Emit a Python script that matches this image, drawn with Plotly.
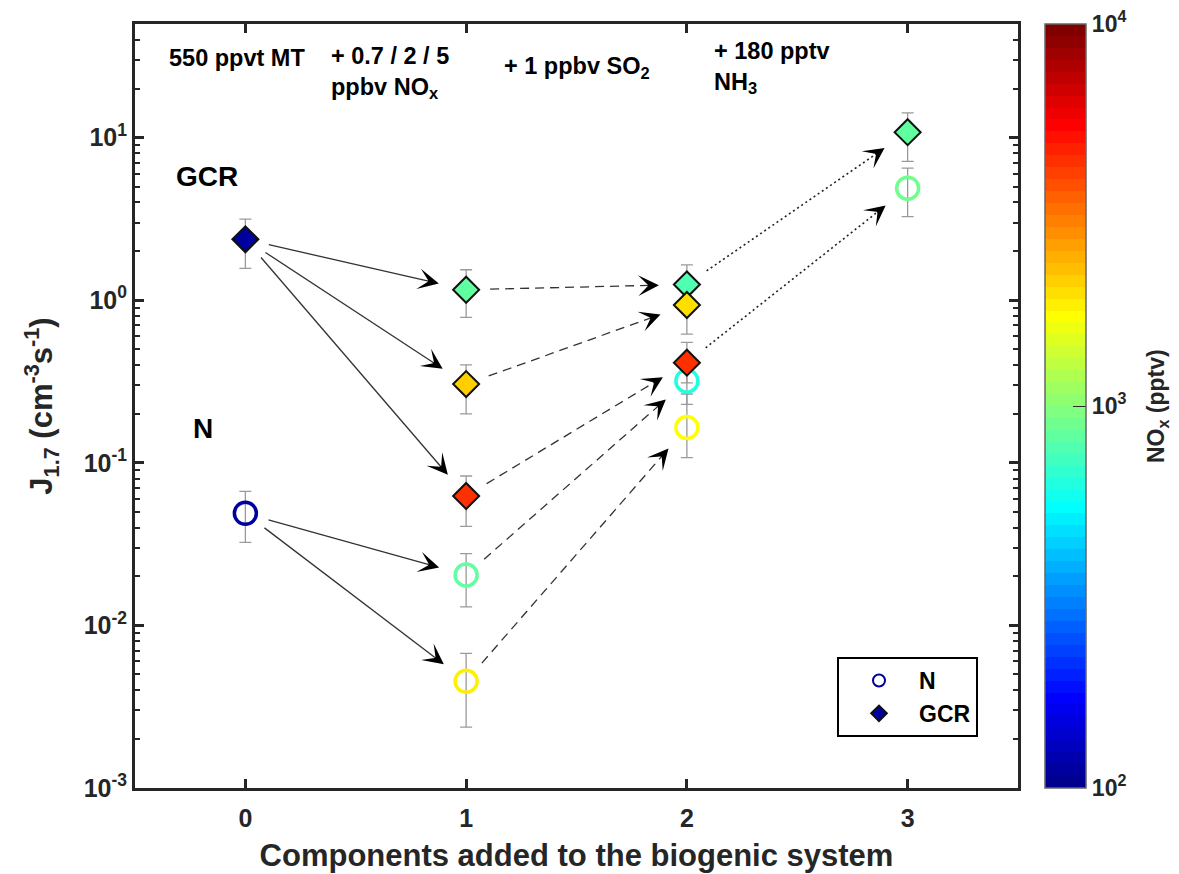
import numpy as np
import plotly.graph_objects as go

# ---------------- data ----------------
gcr_x = [0, 1, 1, 1, 2, 2, 2, 3]
gcr_y = [2.37, 1.16, 0.305, 0.0625, 1.25, 0.935, 0.413, 10.8]
gcr_lo = [1.57, 0.785, 0.20, 0.0406, 0.95, 0.618, 0.31, 7.14]
gcr_hi = [3.15, 1.54, 0.40, 0.083, 1.65, 1.25, 0.55, 14.2]
gcr_nox = [110, 830, 2140, 4470, 780, 1950, 4470, 830]

n_x = [0, 1, 1, 2, 2, 3]
n_y = [0.0489, 0.0204, 0.00454, 0.319, 0.165, 4.89]
n_lo = [0.0324, 0.013, 0.00237, 0.229, 0.1076, 3.27]
n_hi = [0.0668, 0.0276, 0.00673, 0.44, 0.265, 6.49]
n_nox = [110, 830, 1900, 640, 1700, 900]

# arrows: (from series, index, to series, index)
solid_arrows = [("GCR", 0, "GCR", 1), ("GCR", 0, "GCR", 2), ("GCR", 0, "GCR", 3),
                ("N", 0, "N", 1), ("N", 0, "N", 2)]
dashed_arrows = [("GCR", 1, "GCR", 4), ("GCR", 2, "GCR", 5), ("GCR", 3, "GCR", 6),
                 ("N", 1, "N", 3), ("N", 2, "N", 4)]
dotted_arrows = [("GCR", 4, "GCR", 7), ("GCR", 6, "N", 5)]

x_ticks = [0, 1, 2, 3]
y_tickvals = [1e-3, 1e-2, 1e-1, 1e0, 1e1]
y_ticktext = ["10<sup>-3</sup>", "10<sup>-2</sup>", "10<sup>-1</sup>", "10<sup>0</sup>", "10<sup>1</sup>"]
cb_tickvals = [2, 3, 4]
cb_ticktext = ["10<sup>2</sup>", "10<sup>3</sup>", "10<sup>4</sup>"]

# ---------------- layout constants ----------------
W, H = 1179, 874
ML, MR, MT, MB = 135, 161, 24, 86
PW, PH = W - ML - MR, H - MT - MB
XR = [-0.5, 3.5]
YR = [-3, np.log10(50)]
SX = PW / (XR[1] - XR[0])
SY = PH / (YR[1] - YR[0])
AX_COL = "#262626"
FONT = "Liberation Sans, Arial, sans-serif"


def matlab_jet(m=64):
    n = int(np.ceil(m / 4))
    u = np.concatenate([np.arange(1, n + 1) / n, np.ones(n - 1), np.arange(n, 0, -1) / n])
    g = int(np.ceil(n / 2)) - (1 if m % 4 == 1 else 0) + np.arange(1, len(u) + 1)
    r = g + n
    b = g - n
    J = np.zeros((m, 3))
    for idx, val in zip(r, u):
        if 1 <= idx <= m:
            J[idx - 1, 0] = val
    for idx, val in zip(g, u):
        if 1 <= idx <= m:
            J[idx - 1, 1] = val
    for idx, val in zip(b, u):
        if 1 <= idx <= m:
            J[idx - 1, 2] = val
    return J


J = matlab_jet(64)
colorscale = []
for i, c in enumerate(J):
    col = "rgb(%d,%d,%d)" % tuple(np.round(c * 255))
    colorscale.append([i / 64, col])
    colorscale.append([(i + 1) / 64, col])

series = {
    "GCR": (gcr_x, gcr_y),
    "N": (n_x, n_y),
}

fig = go.Figure()


def to_px(x, y):
    return np.array([(x - XR[0]) * SX, (np.log10(y) - YR[0]) * SY])


def from_px(p):
    return p[0] / SX + XR[0], 10 ** (p[1] / SY + YR[0])


S0, S1, HEAD = 24, 28, 10
heads = []


def add_arrow(a, dash, width, color):
    s1, i1, s2, i2 = a
    p0 = to_px(series[s1][0][i1], series[s1][1][i1])
    p1 = to_px(series[s2][0][i2], series[s2][1][i2])
    d = p1 - p0
    u = d / np.hypot(*d)
    a0 = from_px(p0 + u * S0)
    tip = p1 - u * S1
    a1 = from_px(tip - u * 5)
    t = from_px(tip)
    fig.add_trace(go.Scatter(x=[a0[0], a1[0]], y=[a0[1], a1[1]], mode="lines",
                             line=dict(color=color, width=width, dash=dash),
                             showlegend=False, hoverinfo="skip"))
    heads.append(dict(x=t[0], y=np.log10(t[1]), xref="x", yref="y", text="",
                      showarrow=True, arrowhead=3, arrowsize=3.0, arrowwidth=1.15,
                      arrowcolor="#000", ax=-u[0] * HEAD, ay=u[1] * HEAD, standoff=0))


for a in solid_arrows:
    add_arrow(a, "solid", 1.3, "#333333")
for a in dashed_arrows:
    add_arrow(a, "9px,6px", 1.3, "#333333")
for a in dotted_arrows:
    add_arrow(a, "2px,3px", 1.6, "#222222")

err_style = dict(type="data", symmetric=False, color="#9a9a9a", thickness=1.3, width=6)

fig.add_trace(go.Scatter(
    x=n_x, y=n_y, mode="markers", name="N",
    error_y=dict(array=[h - v for h, v in zip(n_hi, n_y)],
                 arrayminus=[v - l for l, v in zip(n_lo, n_y)], **err_style),
    marker=dict(symbol="circle-open", size=22, line=dict(width=3.5),
                color=np.log10(n_nox), colorscale=colorscale, cmin=2, cmax=4),
))

fig.add_trace(go.Scatter(
    x=gcr_x, y=gcr_y, mode="markers", name="GCR",
    error_y=dict(array=[h - v for h, v in zip(gcr_hi, gcr_y)],
                 arrayminus=[v - l for l, v in zip(gcr_lo, gcr_y)], **err_style),
    marker=dict(symbol="diamond", size=20, line=dict(width=2, color="#111"),
                color=np.log10(gcr_nox), colorscale=colorscale, cmin=2, cmax=4,
                showscale=True,
                colorbar=dict(
                    x=(1045 - ML) / PW, xanchor="left", xpad=0, ypad=0,
                    y=0.5, yanchor="middle", len=1, lenmode="fraction",
                    thickness=41, thicknessmode="pixels",
                    outlinecolor="#666", outlinewidth=1.5,
                    tickmode="array", tickvals=cb_tickvals, ticktext=cb_ticktext,
                    ticks="inside", ticklen=13, tickwidth=1.3, tickcolor=AX_COL,
                    tickfont=dict(size=23, family=FONT, color=AX_COL, weight="bold"),
                )),
))

texts = [
    dict(text="550 ppvt MT", x=-0.04, y=1.49, xanchor="center", size=23.5),
    dict(text="+ 0.7 / 2 / 5<br>ppbv NO<sub>x</sub>", x=0.38, y=1.40, xanchor="left", size=23.5),
    dict(text="+ 1 ppbv SO<sub>2</sub>", x=1.163, y=1.43, xanchor="left", size=23.5),
    dict(text="+ 180 pptv<br>NH<sub>3</sub>", x=2.113, y=1.43, xanchor="left", size=23.5),
    dict(text="GCR", x=-0.174, y=0.763, xanchor="center", size=28),
    dict(text="N", x=-0.19, y=-0.787, xanchor="center", size=28),
]
annots = []
for t in texts:
    annots.append(dict(text=t["text"], x=t["x"], y=t["y"], xref="x", yref="y",
                       xanchor=t["xanchor"], yanchor="middle", align="left",
                       showarrow=False,
                       font=dict(size=t["size"], family=FONT, color="#000", weight="bold")))
# colorbar label
annots.append(dict(text="NO<sub>x</sub> (pptv)", x=(1157 - ML) / PW, y=0.5,
                   xref="paper", yref="paper", xanchor="center", yanchor="middle",
                   textangle=-90, showarrow=False,
                   font=dict(size=23, family=FONT, color=AX_COL, weight="bold")))

minor_vals = [m * 10.0 ** e for e in range(-3, 2) for m in range(2, 10)]

axis_common = dict(showline=True, linewidth=3, linecolor=AX_COL, mirror="ticks",
                   ticks="inside", ticklen=9, tickwidth=2.5, tickcolor=AX_COL,
                   showgrid=False, zeroline=False, automargin=False,
                   tickfont=dict(size=25, family=FONT, color=AX_COL, weight="bold"))

fig.update_layout(
    width=W, height=H,
    margin=dict(l=ML, r=MR, t=MT, b=MB, pad=0, autoexpand=False),
    paper_bgcolor="white", plot_bgcolor="white",
    font=dict(family=FONT, color=AX_COL, weight="bold"),
    xaxis=dict(range=XR, tickmode="array", tickvals=x_ticks, ticklabelstandoff=6,
               title=dict(text="Components added to the biogenic system",
                          font=dict(size=31, family=FONT, color=AX_COL, weight="bold"),
                          standoff=14),
               **axis_common),
    yaxis=dict(type="log", range=YR, tickmode="array", tickvals=y_tickvals, ticktext=y_ticktext,
               minor=dict(tickmode="array", tickvals=minor_vals, ticks="inside", ticklen=5,
                          tickwidth=2, tickcolor=AX_COL, showgrid=False),
               title=dict(text="J<sub>1.7</sub> (cm<sup>-3</sup>s<sup>-1</sup>)",
                          font=dict(size=31, family=FONT, color=AX_COL, weight="bold"),
                          standoff=22),
               **axis_common),
    legend=dict(x=(978 - ML) / PW, xanchor="right", y=(H - MB - 737) / PH, yanchor="bottom",
                bordercolor="#000", borderwidth=2, bgcolor="white",
                font=dict(size=23, family=FONT, color="#000", weight="bold"),
                itemsizing="constant", itemwidth=70, tracegroupgap=0),
    annotations=heads + annots,
    showlegend=True,
)

fig.write_html("out.html")
